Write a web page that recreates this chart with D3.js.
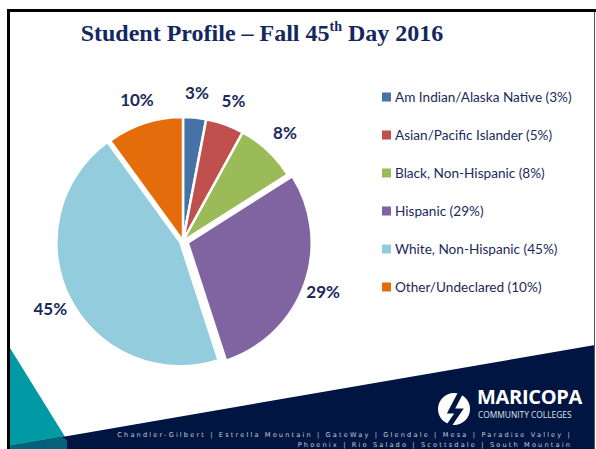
<!DOCTYPE html>
<html>
<head>
<meta charset="utf-8">
<script src="https://cdn.jsdelivr.net/npm/d3@7"></script>
<style>
  body { margin: 0; background: #fff; }
  svg { display: block; }
</style>
</head>
<body>
<svg id="chart" width="596" height="449"></svg>
<script>
// slice data, clockwise from 12 o'clock
const categories = [
  "Am Indian/Alaska Native",
  "Asian/Pacific Islander",
  "Black, Non-Hispanic",
  "Hispanic",
  "White, Non-Hispanic",
  "Other/Undeclared"
];
const shares = [3, 5, 8, 29, 45, 10];
const sliceColors = ["#4572a7", "#c0504d", "#9bbb59", "#8064a2", "#93cddd", "#e46c0a"];
const explode = [0, 0, 0, 5, 3, 0];
const footerLines = [
  "Chandler-Gilbert | Estrella Mountain | GateWay | Glendale | Mesa | Paradise Valley |",
  "Phoenix | Rio Salado | Scottsdale | South Mountain"
];

const navy = "#001541";
const labelColor = "#1b2a5c";

const svg = d3.select("#chart");
const width = 596;
const height = 449;

svg.append("rect").attr("width", width).attr("height", height).attr("fill", "#fff");

// slide decoration: teal wedge and navy band
svg.append("path")
  .attr("d", "M10,348 L67,440 L67,449 L10,449 Z")
  .attr("fill", "#0099a4");
svg.append("path")
  .attr("d", "M10,446 L595,345 L595,449 L10,449 Z")
  .attr("fill", navy);
svg.append("path")
  .attr("d", "M10,446 L62,437 L67,440 L67,449 L10,449 Z")
  .attr("fill", "#07607a");

// frame
svg.append("rect").attr("x", 7).attr("y", 9).attr("width", width - 7).attr("height", 3).attr("fill", "#000");
svg.append("rect").attr("x", 7).attr("y", 9).attr("width", 3).attr("height", height - 9).attr("fill", "#000");
svg.append("rect").attr("x", 594).attr("y", 12).attr("width", 1).attr("height", height - 12).attr("fill", "#555");

// title
const title = svg.append("text")
  .attr("x", 262)
  .attr("y", 41)
  .attr("text-anchor", "middle")
  .attr("font-family", "'Liberation Serif', serif")
  .attr("font-weight", 700)
  .attr("font-size", 24)
  .attr("fill", "#14285f");
title.append("tspan").text("Student Profile \u2013 Fall 45");
title.append("tspan").attr("font-size", 14).attr("dy", -10).text("th");
title.append("tspan").attr("dy", 10).text(" Day 2016");

// pie
const cx = 183;
const cy = 241;
const radius = 124;

const pie = d3.pie().sort(null).startAngle(0).endAngle(2 * Math.PI).value((d) => d);
const arcs = pie(shares);
const arc = d3.arc().innerRadius(0).outerRadius(radius);
const labelArc = d3.arc().innerRadius(149).outerRadius(149);

const pieG = svg.append("g").attr("transform", `translate(${cx},${cy})`);

pieG.selectAll("path")
  .data(arcs)
  .join("path")
  .attr("transform", (d, i) => {
    const mid = (d.startAngle + d.endAngle) / 2;
    return `translate(${Math.sin(mid) * explode[i]},${-Math.cos(mid) * explode[i]})`;
  })
  .attr("d", arc)
  .attr("fill", (d, i) => sliceColors[i])
  .attr("stroke", "#fff")
  .attr("stroke-width", 2.5)
  .attr("stroke-linejoin", "round");

pieG.selectAll("text")
  .data(arcs)
  .join("text")
  .attr("x", (d) => labelArc.centroid(d)[0])
  .attr("y", (d) => labelArc.centroid(d)[1])
  .attr("text-anchor", "middle")
  .attr("dominant-baseline", "central")
  .attr("font-family", "Lato, sans-serif")
  .attr("font-weight", 700)
  .attr("font-size", 17)
  .attr("fill", labelColor)
  .text((d) => `${d.data}%`);

// legend
const legendY = d3.scalePoint()
  .domain(categories)
  .range([97, 287]);

const legend = svg.append("g")
  .selectAll("g")
  .data(categories)
  .join("g")
  .attr("transform", (d) => `translate(382,${legendY(d)})`);

legend.append("rect")
  .attr("x", 0)
  .attr("y", -4.5)
  .attr("width", 9)
  .attr("height", 9)
  .attr("fill", (d, i) => sliceColors[i]);

legend.append("text")
  .attr("x", 13)
  .attr("y", 0)
  .attr("dominant-baseline", "central")
  .attr("font-family", "Lato, sans-serif")
  .attr("font-size", 13.6)
  .attr("fill", labelColor)
  .text((d, i) => `${d} (${shares[i]}%)`);

// logo
const logo = svg.append("g").attr("transform", "translate(454,409)");
logo.append("circle").attr("r", 16).attr("fill", "#fff");
logo.append("path")
  .attr("d", "M7,-17 L-3,2 L5,2 L-6,18")
  .attr("fill", "none")
  .attr("stroke", navy)
  .attr("stroke-width", 5)
  .attr("stroke-linejoin", "miter");

svg.append("text")
  .attr("x", 477)
  .attr("y", 404)
  .attr("font-family", "'Open Sans', sans-serif")
  .attr("font-weight", 700)
  .attr("font-size", 20)
  .attr("letter-spacing", -0.3)
  .attr("fill", "#fff")
  .text("MARICOPA");

svg.append("text")
  .attr("x", 478)
  .attr("y", 418)
  .attr("font-family", "'Open Sans', sans-serif")
  .attr("font-size", 8.4)
  .attr("fill", "#dfe3ec")
  .text("COMMUNITY COLLEGES");

svg.append("g")
  .selectAll("text")
  .data(footerLines)
  .join("text")
  .attr("x", 572)
  .attr("y", (d, i) => 437 + i * 9.5)
  .attr("text-anchor", "end")
  .attr("font-family", "'DejaVu Sans', sans-serif")
  .attr("font-size", 6.6)
  .attr("letter-spacing", 2.15)
  .attr("fill", "#c9cdd9")
  .text((d) => d);
</script>
</body>
</html>
